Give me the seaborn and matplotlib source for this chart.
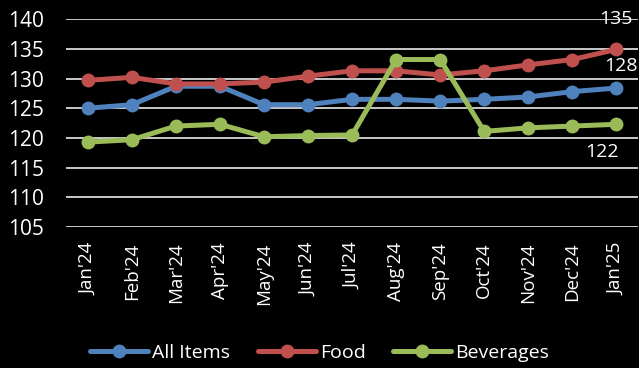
import matplotlib
matplotlib.use("Agg")
import matplotlib.pyplot as plt
import pandas as pd
import seaborn as sns

months = ["Jan'24", "Feb'24", "Mar'24", "Apr'24", "May'24", "Jun'24", "Jul'24",
          "Aug'24", "Sep'24", "Oct'24", "Nov'24", "Dec'24", "Jan'25"]
all_items = [125.0, 125.6, 128.7, 128.7, 125.6, 125.6, 126.5, 126.5, 126.2, 126.5, 126.9, 127.8, 128.4]
food = [129.7, 130.2, 129.1, 129.1, 129.4, 130.4, 131.3, 131.3, 130.6, 131.3, 132.3, 133.2, 134.9]
beverages = [119.3, 119.7, 122.0, 122.3, 120.2, 120.4, 120.5, 133.2, 133.2, 121.1, 121.7, 122.0, 122.3]
series = ["All Items", "Food", "Beverages"]
colors = ["#4F81BD", "#C0504D", "#9BBB59"]

df = pd.DataFrame({
    "month": months * 3,
    "x": list(range(len(months))) * 3,
    "value": all_items + food + beverages,
    "series": [s for s in series for _ in months],
})

sns.set_style("dark")
plt.rcParams["font.family"] = ["Open Sans", "DejaVu Sans"]

fig = plt.figure(figsize=(6.39, 3.68), dpi=100, facecolor="black")
ax = fig.add_axes([0.103, 0.383, 0.896, 0.565])
ax.set_facecolor("black")

sns.lineplot(data=df, x="x", y="value", hue="series", hue_order=series,
             palette=colors, marker="o", markersize=10, markeredgewidth=0,
             linewidth=3.6, ax=ax, legend=False, zorder=3)

ax.set_xlim(-0.5, len(months) - 0.5)
ax.set_ylim(105, 140)
ax.set_yticks(range(105, 141, 5))
ax.set_xticks(range(len(months)))
ax.set_xticklabels(months, rotation=90)
ax.tick_params(axis="x", colors="white", labelsize=13.5, length=0, pad=11)
ax.tick_params(axis="y", colors="white", labelsize=15, length=0, pad=16)
ax.grid(axis="y", color="#D9D9D9", linewidth=1.3)
ax.grid(axis="x", visible=False)
for sp in ax.spines.values():
    sp.set_visible(False)
ax.set_xlabel("")
ax.set_ylabel("")

last = len(months) - 1
ax.annotate(f"{food[-1]:.0f}", (last, food[-1]), xytext=(0, 22), textcoords="offset points",
            ha="center", va="center", color="white", fontsize=14, annotation_clip=False)
ax.annotate(f"{all_items[-1]:.0f}", (last, food[-1]), xytext=(3, -12), textcoords="offset points",
            ha="center", va="center", color="white", fontsize=14, annotation_clip=False)
ax.annotate(f"{beverages[-1]:.0f}", (last, beverages[-1]), xytext=(-10, -20), textcoords="offset points",
            ha="center", va="center", color="white", fontsize=14, annotation_clip=False)

handles = [plt.Line2D([], [], color=c, marker="o", markersize=10, linewidth=3.6, markeredgewidth=0)
           for c in colors]
leg = fig.legend(handles, series, loc="center", bbox_to_anchor=(0.5, 0.04), ncol=3,
                 frameon=False, fontsize=14, handlelength=3, columnspacing=1.4, handletextpad=0.2)
for t in leg.get_texts():
    t.set_color("white")

fig.savefig("out.png", dpi=100, facecolor="black")
